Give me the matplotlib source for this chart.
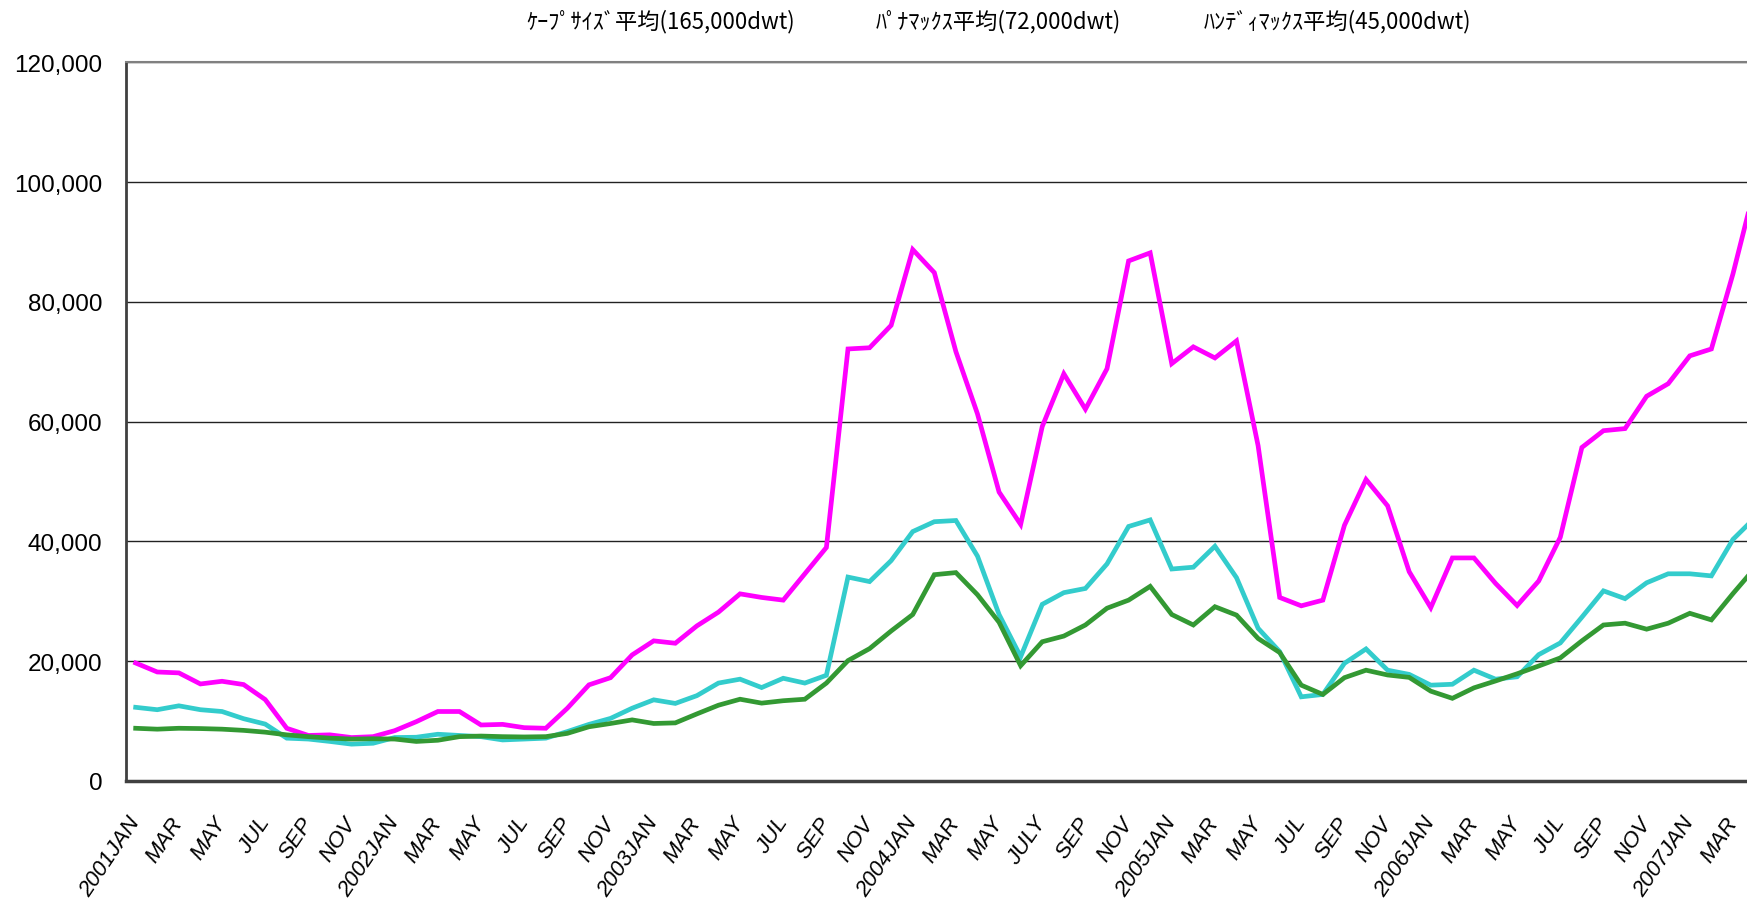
"""
Monthly average time-charter rates by bulk carrier size, Jan 2001 - Apr 2007.
"""
import matplotlib
matplotlib.use("Agg")
import matplotlib.pyplot as plt
from matplotlib.ticker import FuncFormatter

# series labels (half-width katakana as in the source)
series_names = [
    "ｹｰﾌﾟｻｲｽﾞ平均(165,000dwt)",
    "ﾊﾟﾅﾏｯｸｽ平均(72,000dwt)",
    "ﾊﾝﾃﾞｨﾏｯｸｽ平均(45,000dwt)",
]

# monthly values, 2001JAN .. 2007APR (last point lies past the cropped edge)
cape = [
    19700, 18200, 18050, 16200, 16650, 16100, 13600, 8800, 7600, 7700, 7250, 7400,
    8400, 9900, 11600, 11600, 9350, 9450, 8900, 8800, 12150, 16050, 17250, 21050,
    23400, 23000, 25900, 28200, 31250, 30650, 30200, 34600, 39000, 72150, 72350, 76100,
    88750, 84900, 71700, 61300, 48250, 42850, 59200, 68000, 62100, 68850, 86850, 88200,
    69700, 72500, 70650, 73500, 56000, 30650, 29250, 30200, 42700, 50350, 45950, 34950,
    28950, 37250, 37250, 33000, 29300, 33400, 40700, 55700, 58500, 58850, 64250, 66350,
    71000, 72150, 84700, 99000,
]
panamax = [
    12300, 11900, 12550, 11900, 11600, 10400, 9500, 7150, 7000, 6600, 6150, 6300,
    7250, 7300, 7800, 7600, 7400, 6850, 7000, 7150, 8250, 9450, 10450, 12150,
    13550, 12950, 14250, 16350, 17000, 15600, 17150, 16350, 17650, 34050, 33300, 36800,
    41650, 43300, 43500, 37550, 27800, 20750, 29500, 31450, 32150, 36250, 42500, 43600,
    35400, 35700, 39200, 33950, 25500, 21600, 14050, 14450, 19650, 22050, 18500, 17800,
    16000, 16150, 18500, 17000, 17400, 21100, 23050, 27350, 31750, 30450, 33100, 34600,
    34600, 34250, 40350, 43900,
]
handymax = [
    8800, 8650, 8800, 8750, 8650, 8450, 8150, 7700, 7400, 7150, 7000, 7050,
    7000, 6600, 6800, 7400, 7500, 7400, 7350, 7400, 7950, 9050, 9600, 10200,
    9600, 9700, 11200, 12650, 13650, 13000, 13400, 13650, 16350, 20100, 22100, 25050,
    27800, 34450, 34800, 31100, 26500, 19250, 23250, 24200, 26050, 28850, 30200, 32500,
    27800, 26050, 29100, 27700, 23800, 21450, 16000, 14450, 17250, 18500, 17700, 17300,
    15000, 13800, 15550, 16700, 17900, 19200, 20550, 23400, 26050, 26350, 25350, 26350,
    28000, 26900, 31300, 35500,
]

# one label every two months
tick_labels = [
    "2001JAN", "MAR", "MAY", "JUL", "SEP", "NOV",
    "2002JAN", "MAR", "MAY", "JUL", "SEP", "NOV",
    "2003JAN", "MAR", "MAY", "JUL", "SEP", "NOV",
    "2004JAN", "MAR", "MAY", "JULY", "SEP", "NOV",
    "2005JAN", "MAR", "MAY", "JUL", "SEP", "NOV",
    "2006JAN", "MAR", "MAY", "JUL", "SEP", "NOV",
    "2007JAN", "MAR",
]

colors = ["#FF00FF", "#33CCCC", "#339933"]


def main():
    fig = plt.figure(figsize=(17.47, 9.04), dpi=100)
    ax = fig.add_axes([0.0721, 0.135, 0.9279, 0.7948])

    x = list(range(len(cape)))
    for vals, c in zip([cape, panamax, handymax], colors):
        ax.plot(x, vals, color=c, lw=3.4, solid_joinstyle="miter", zorder=3)

    ax.set_xlim(-0.45, 74.65)
    ax.set_ylim(0, 120000)
    ax.set_yticks(range(0, 120001, 20000))
    ax.yaxis.set_major_formatter(FuncFormatter(lambda v, p: f"{int(v):,}"))
    ax.yaxis.grid(True, color="#222222", lw=1.0)
    ax.set_axisbelow(True)

    ax.set_xticks(range(0, 2 * len(tick_labels), 2))
    ax.set_xticklabels(tick_labels, rotation=56, ha="right", va="center",
                       rotation_mode="anchor", fontsize=16,
                       family="Liberation Sans", style="italic")
    ax.tick_params(axis="x", length=0, pad=27)
    ax.tick_params(axis="y", length=0, pad=17, labelsize=17.5)
    for lab in ax.get_yticklabels():
        lab.set_family("Liberation Sans")

    ax.spines["right"].set_visible(False)
    ax.spines["top"].set_color("#808080")
    ax.spines["top"].set_linewidth(1.5)
    ax.spines["left"].set_color("#404040")
    ax.spines["left"].set_linewidth(2)
    ax.spines["bottom"].set_color("#404040")
    ax.spines["bottom"].set_linewidth(2.5)

    # text-only legend across the top
    for name, xpos in zip(series_names, [0.301, 0.501, 0.689]):
        fig.text(xpos, 0.9757, name, ha="left", va="center", fontsize=16,
                 family=["Noto Sans CJK JP", "DejaVu Sans"], color="black")

    fig.savefig("out.png", dpi=100)


if __name__ == "__main__":
    main()
